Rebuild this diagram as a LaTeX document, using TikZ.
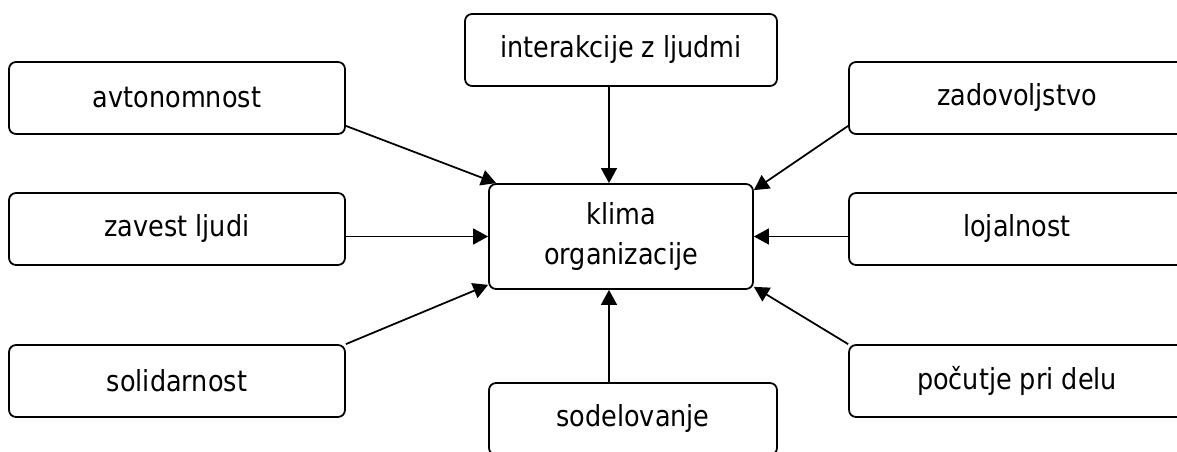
\documentclass[tikz,border=0pt]{standalone}
\usepackage{fontspec}
\setmainfont{DejaVu Sans}[FakeStretch=0.88]
\usetikzlibrary{arrows.meta,calc}
\begin{document}
\begin{tikzpicture}[x=0.02cm,y=-0.02cm,
  box/.style={draw,line width=1pt,rounded corners=4pt,inner sep=0pt,
    font=\fontsize{16.5pt}{23.3pt}\selectfont,align=center},
  side/.style={box,minimum width=6.72cm,minimum height=1.44cm},
  arr/.style={line width=1pt,-{Triangle[length=8.5pt,width=9pt]}}]
\useasboundingbox (0,0) rectangle (1177,452);
\node[side] (avt) at (177,98) {avtonomnost};
\node[side] (zav) at (177,229) {zavest ljudi};
\node[side] (sol) at (177,381) {solidarnost};
\node[side] (zad) at (1017,98) {zadovoljstvo};
\node[side] (loj) at (1017,229) {lojalnost};
\node[side] (poc) at (1017,381) {počutje pri delu};
\node[box,minimum width=6.24cm,minimum height=1.44cm] (int) at (621,50) {interakcije z ljudmi};
\node[box,minimum width=5.76cm,minimum height=1.44cm] (sod) at (633,419) {sodelovanje};
\node[box,minimum width=5.28cm,minimum height=2.1cm] (klima) at (621,236.5) {klima\\organizacije};
\draw[arr] ($(avt.south east)+(0,-9)$) -- ($(klima.north west)+(8,0)$);
\draw[arr] (zav.east |- klima.west) -- (klima.west);
\draw[arr] (sol.north east) -- ($(klima.south west)+(0,-5)$);
\draw[arr] ($(int.south)+(-12,0)$) -- ($(klima.north)+(-12,0)$);
\draw[arr] ($(sod.north)+(-24,0)$) -- ($(klima.south)+(-12,0)$);
\draw[arr] ($(zad.south west)+(0,-9)$) -- ($(klima.north east)+(0,7)$);
\draw[arr] (loj.west |- klima.east) -- (klima.east);
\draw[arr] (poc.north west) -- ($(klima.south east)+(0,-3)$);
\end{tikzpicture}
\end{document}
